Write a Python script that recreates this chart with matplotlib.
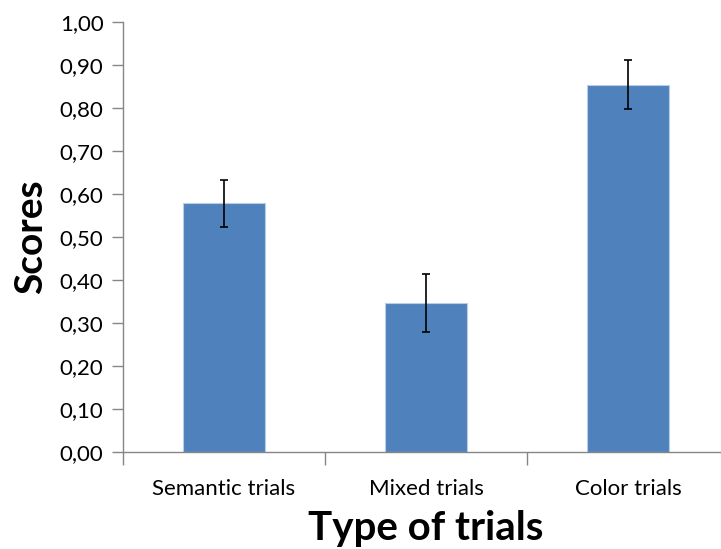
import matplotlib
matplotlib.use("Agg")
import matplotlib.pyplot as plt
import numpy as np

# Data
categories = ["Semantic trials", "Mixed trials", "Color trials"]
scores = [0.578, 0.347, 0.854]
errors = [0.055, 0.068, 0.057]
y_ticks = [0.0, 0.1, 0.2, 0.3, 0.4, 0.5, 0.6, 0.7, 0.8, 0.9, 1.0]

plt.rcParams["font.family"] = ["Lato", "DejaVu Sans"]

fig = plt.figure(figsize=(7.21, 5.49), dpi=100)
ax = fig.add_axes([0.1706, 0.1758, 0.8405, 0.7847])

x = np.arange(len(categories))
ax.bar(x, scores, width=0.405, color="#4F81BD", edgecolor="#B9CDE5", linewidth=0.8, zorder=2)
ax.errorbar(x, scores, yerr=errors, fmt="none", ecolor="black", elinewidth=1.2,
            capsize=3, capthick=1.2, zorder=3)

ax.set_xlim(-0.5, 2.5)
ax.set_ylim(0, 1.0)
ax.set_yticks(y_ticks)
ax.set_yticklabels([f"{v:.2f}".replace(".", ",") for v in y_ticks])

# category labels between the boundary ticks
ax.set_xticks([-0.5, 0.5, 1.5, 2.5])
ax.set_xticklabels([])
ax.set_xticks(x, minor=True)
ax.set_xticklabels(categories, minor=True)
ax.tick_params(axis="x", which="minor", length=0, pad=19, labelsize=16)
ax.tick_params(axis="x", which="major", length=9, width=1, color="#868686", direction="out")
ax.tick_params(axis="y", length=8, width=1, color="#868686", labelsize=16, pad=6)

for s in ["top", "right"]:
    ax.spines[s].set_visible(False)
for s in ["left", "bottom"]:
    ax.spines[s].set_color("#868686")
    ax.spines[s].set_linewidth(1)

ax.set_ylabel("Scores", fontsize=28, fontweight="bold", labelpad=8)
ax.set_xlabel("Type of trials", fontsize=29, fontweight="bold", labelpad=8)

fig.savefig("out.png", dpi=100)
